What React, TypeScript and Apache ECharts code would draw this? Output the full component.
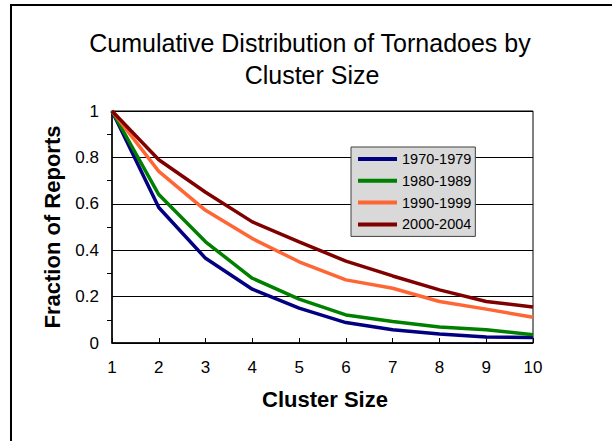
import React, { useEffect, useRef } from "react";
import * as echarts from "echarts";

// Cluster sizes on the x axis
const clusterSizes = [1, 2, 3, 4, 5, 6, 7, 8, 9, 10];

// Cumulative fraction of reports for each period
const period1970s = [1, 0.584, 0.365, 0.232, 0.15, 0.088, 0.057, 0.039, 0.026, 0.024];
const period1980s = [1, 0.64, 0.436, 0.279, 0.189, 0.121, 0.093, 0.069, 0.057, 0.036];
const period1990s = [1, 0.74, 0.572, 0.45, 0.35, 0.272, 0.236, 0.179, 0.146, 0.111];
const period2000s = [1, 0.79, 0.65, 0.522, 0.436, 0.353, 0.289, 0.229, 0.179, 0.155];

const seriesNames = ["1970-1979", "1980-1989", "1990-1999", "2000-2004"];
const seriesColors = ["#000080", "#008000", "#ff6633", "#800000"];
const seriesValues = [period1970s, period1980s, period1990s, period2000s];

const titleLines = ["Cumulative Distribution of Tornadoes by", "Cluster Size"];
const xAxisTitle = "Cluster Size";
const yAxisTitle = "Fraction of Reports";

const FONT = "Liberation Sans, Arial, Helvetica, sans-serif";

export default function App() {
  const ref = useRef<HTMLDivElement>(null);

  useEffect(() => {
    if (!ref.current) return;
    const chart = echarts.init(ref.current, null, { renderer: "svg" });

    chart.setOption({
      animation: false,
      backgroundColor: "#ffffff",
      textStyle: { fontFamily: FONT },
      grid: {
        left: 112,
        right: 79,
        top: 111,
        bottom: 98,
        show: true,
        borderColor: "#000000",
        borderWidth: 1,
        backgroundColor: "transparent",
      },
      legend: {
        orient: "vertical",
        left: 351,
        top: 147,
        data: seriesNames,
        icon: "rect",
        itemWidth: 39,
        itemHeight: 4,
        itemGap: 5.8,
        itemTextGap: 4,
        padding: [4, 4, 4, 7],
        backgroundColor: "#d9d9d9",
        borderColor: "#404040",
        borderWidth: 1,
        textStyle: {
          fontFamily: FONT,
          fontSize: 14.5,
          color: "#000000",
          lineHeight: 16,
        },
      },
      xAxis: {
        type: "value",
        min: 1,
        max: 10,
        interval: 1,
        axisLine: { show: true, lineStyle: { color: "#000000", width: 1.5 } },
        axisTick: { show: true, inside: true, length: 5, lineStyle: { color: "#000000" } },
        splitLine: { show: false },
        axisLabel: {
          margin: 16,
          fontFamily: FONT,
          fontSize: 17,
          color: "#000000",
        },
      },
      yAxis: {
        type: "value",
        min: 0,
        max: 1,
        interval: 0.2,
        axisLine: { show: true, lineStyle: { color: "#000000", width: 1.5 } },
        axisTick: { show: false },
        minorTick: {
          show: true,
          splitNumber: 2,
          length: 5,
          lineStyle: { color: "#000000" },
        },
        splitLine: { show: true, lineStyle: { color: "#000000", width: 1 } },
        axisLabel: {
          margin: 13,
          fontFamily: FONT,
          fontSize: 17,
          color: "#000000",
          formatter: (v: number) => String(parseFloat(v.toFixed(1))),
        },
      },
      series: seriesNames.map((name, i) => ({
        name,
        type: "line",
        data: clusterSizes.map((x, j) => [x, seriesValues[i][j]]),
        showSymbol: false,
        symbol: "none",
        clip: false,
        color: seriesColors[i],
        lineStyle: { color: seriesColors[i], width: 3.5 },
        z: 3,
      })),
      graphic: [
        {
          type: "rect",
          shape: { x: 11, y: 5, width: 640, height: 480 },
          style: { fill: "none", stroke: "#000000", lineWidth: 2 },
          silent: true,
        },
        {
          type: "text",
          x: 310,
          y: 43,
          style: {
            text: titleLines[0],
            font: `25px ${FONT}`,
            fill: "#000000",
            align: "center",
            verticalAlign: "middle",
          },
        },
        {
          type: "text",
          x: 312,
          y: 74.5,
          style: {
            text: titleLines[1],
            font: `25px ${FONT}`,
            fill: "#000000",
            align: "center",
            verticalAlign: "middle",
          },
        },
        {
          type: "text",
          x: 325,
          y: 399,
          style: {
            text: xAxisTitle,
            font: `bold 22px ${FONT}`,
            fill: "#000000",
            align: "center",
            verticalAlign: "middle",
          },
        },
        {
          type: "text",
          x: 52,
          y: 227,
          rotation: Math.PI / 2,
          style: {
            text: yAxisTitle,
            font: `bold 22px ${FONT}`,
            fill: "#000000",
            align: "center",
            verticalAlign: "middle",
          },
        },
      ],
    });

    return () => chart.dispose();
  }, []);

  return (
    <div
      ref={ref}
      style={{ position: "fixed", left: 0, top: 0, width: 612, height: 441 }}
    />
  );
}
